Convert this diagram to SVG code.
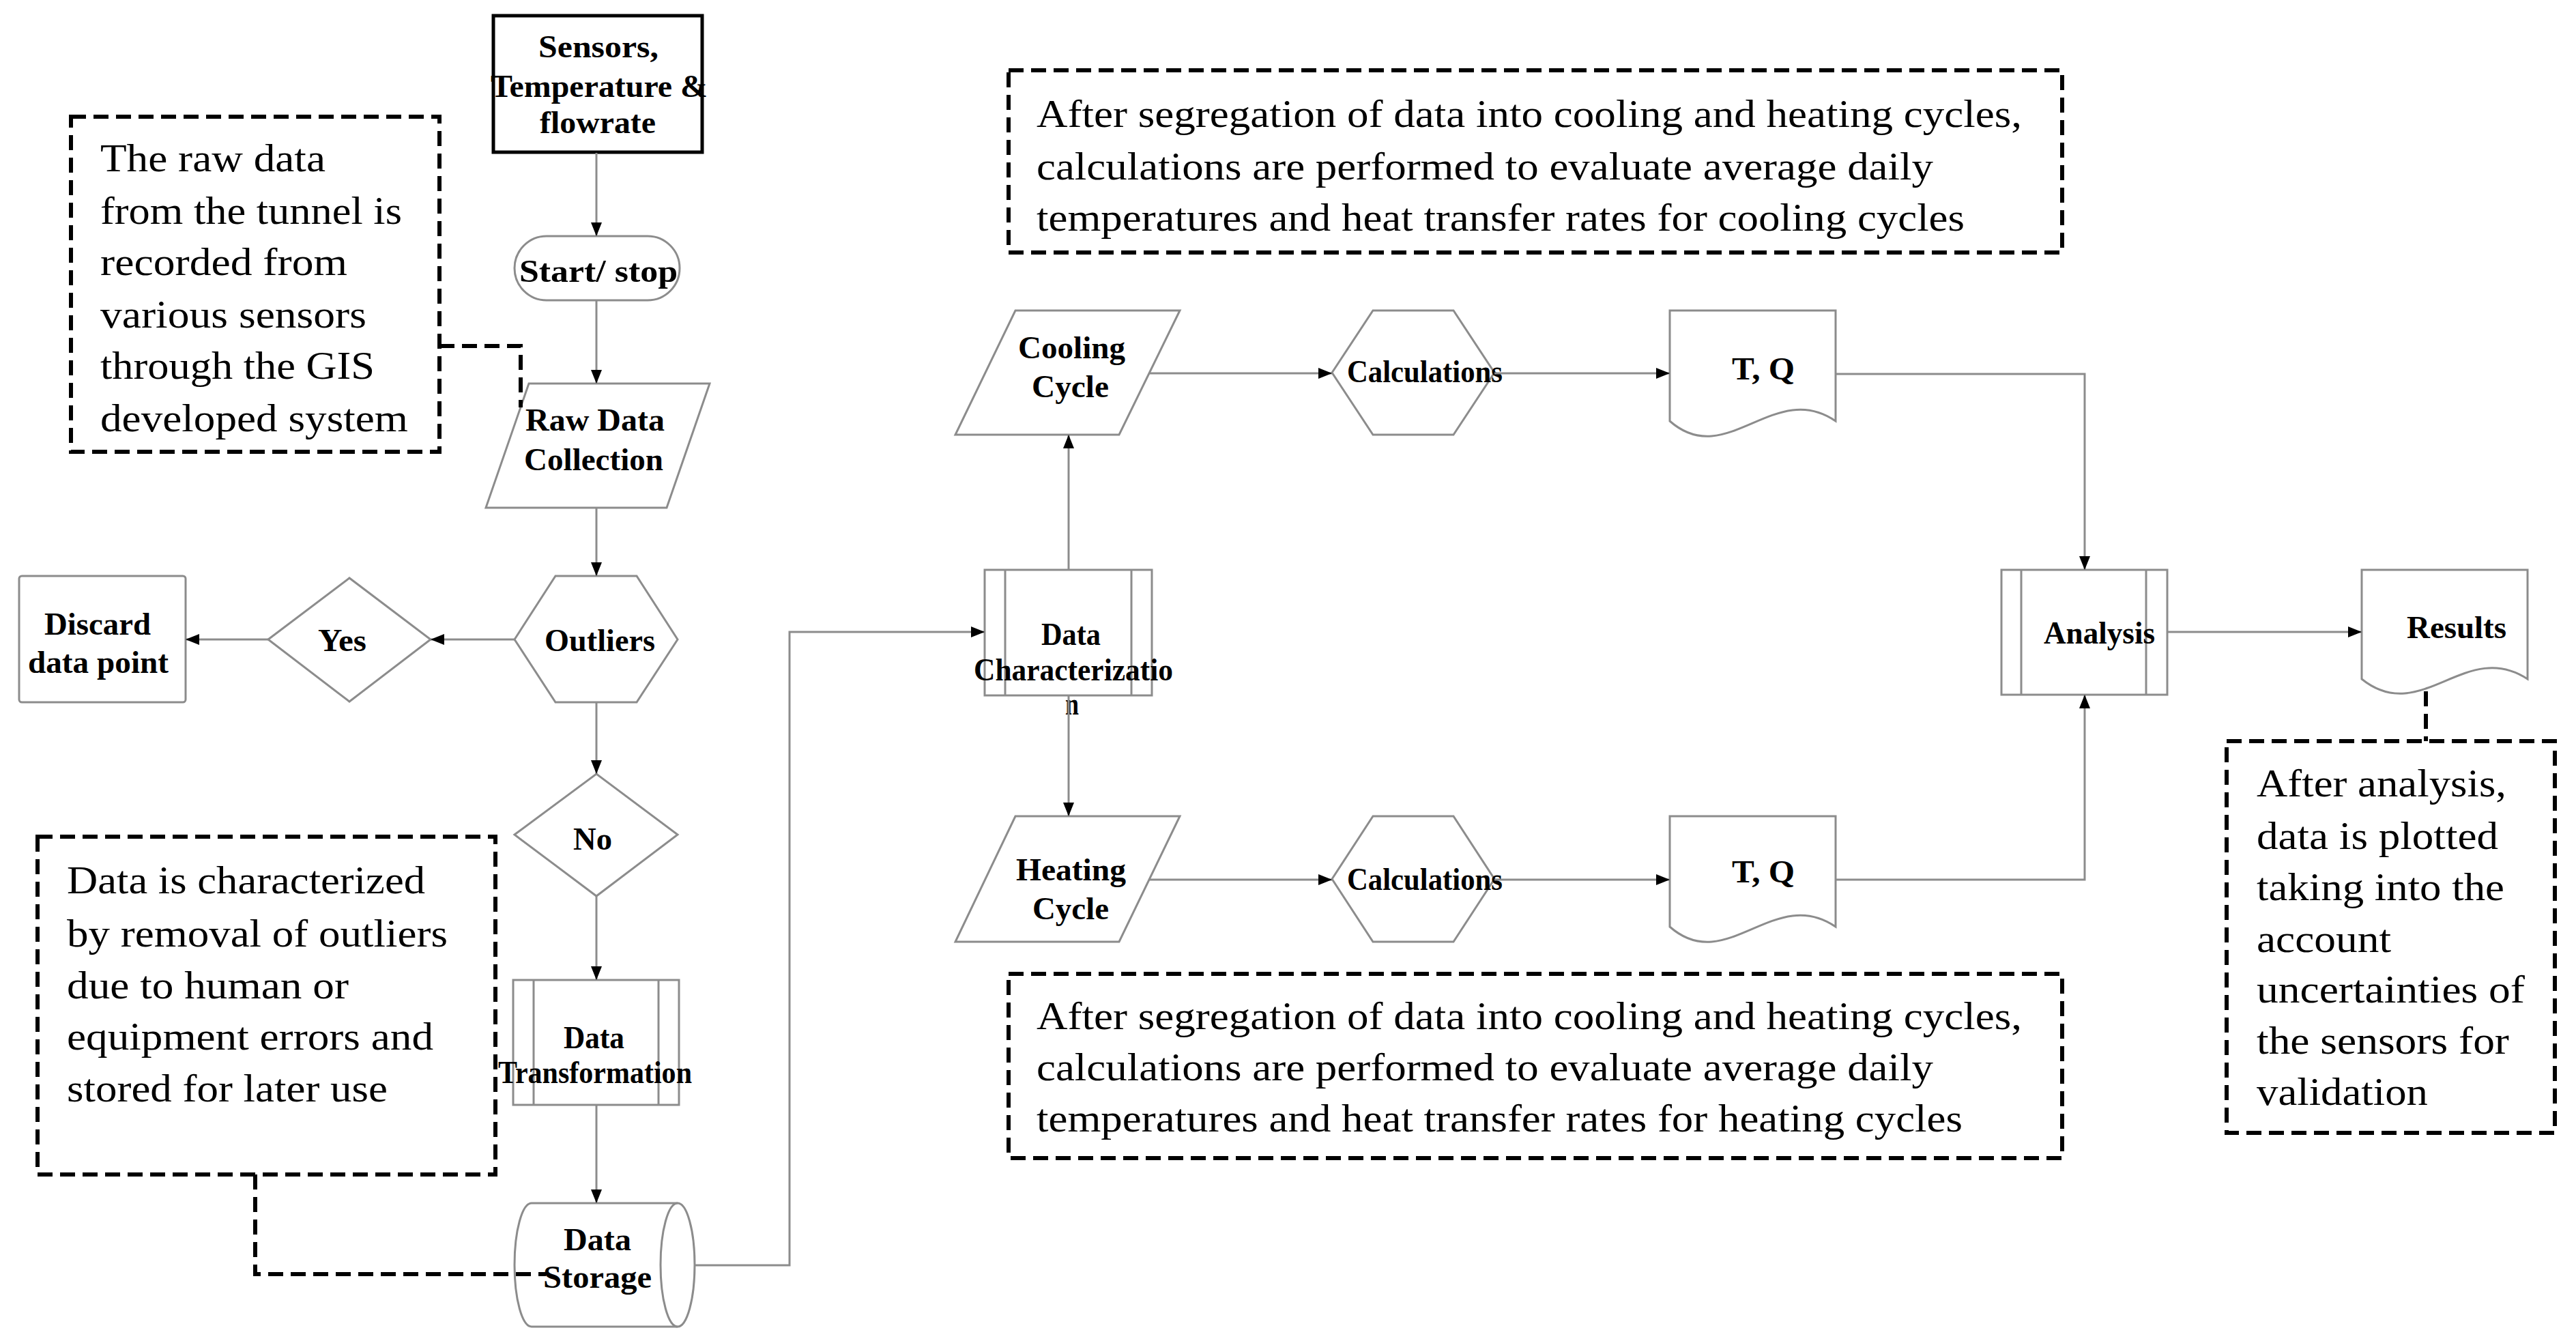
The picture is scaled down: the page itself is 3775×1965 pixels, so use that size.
<svg xmlns="http://www.w3.org/2000/svg" width="3775" height="1965" viewBox="0 0 3775 1965">
<style>
.n{fill:#fff;stroke:#8c8c8c;stroke-width:3}
.c{fill:none;stroke:#8c8c8c;stroke-width:3}
.d{fill:none;stroke:#000;stroke-width:6;stroke-dasharray:22 11}
.b{font-family:"Liberation Serif","Times New Roman",serif;font-weight:bold;font-size:46px;fill:#000}
.t{font-family:"Liberation Serif","Times New Roman",serif;font-size:56px;fill:#000}
.r{font-family:"Liberation Serif","Times New Roman",serif;font-size:58px;fill:#000}
</style>
<defs>
<marker id="ah" markerWidth="20" markerHeight="16" refX="20" refY="8" orient="auto" markerUnits="userSpaceOnUse"><path d="M0,0 L20,8 L0,16 z" fill="#000"/></marker>
</defs>
<rect width="3775" height="1965" fill="#fff"/>

<g id="sensors">
<rect x="723" y="23" width="306" height="200" fill="#fff" stroke="#000" stroke-width="5"/>
<text class="b" x="789" y="84" textLength="176" lengthAdjust="spacingAndGlyphs">Sensors,</text>
<text class="b" x="719" y="142" textLength="318" lengthAdjust="spacingAndGlyphs">Temperature &amp;</text>
<text class="b" x="791" y="195" textLength="170" lengthAdjust="spacingAndGlyphs">flowrate</text>
</g>

<g id="start">
<rect class="n" x="754" y="346" width="242" height="94" rx="47"/>
<text class="b" x="761" y="413" textLength="232" lengthAdjust="spacingAndGlyphs">Start/ stop</text>
</g>

<g id="rawdata">
<polygon class="n" points="775,562 1040,562 977,744 712,744"/>
<text class="b" x="770" y="631" textLength="204" lengthAdjust="spacingAndGlyphs">Raw Data</text>
<text class="b" x="768" y="689" textLength="204" lengthAdjust="spacingAndGlyphs">Collection</text>
</g>

<g id="outliers">
<polygon class="n" points="754,937 814,844 933,844 993,937 933,1029 814,1029"/>
<text class="b" x="798" y="954" textLength="162" lengthAdjust="spacingAndGlyphs">Outliers</text>
</g>

<g id="yes">
<polygon class="n" points="393,937 512,847 631,937 512,1028"/>
<text class="b" x="466" y="954" textLength="71" lengthAdjust="spacingAndGlyphs">Yes</text>
</g>

<g id="discard">
<rect class="n" x="28" y="844" width="244" height="185" rx="4"/>
<text class="b" x="65" y="930" textLength="156" lengthAdjust="spacingAndGlyphs">Discard</text>
<text class="b" x="41" y="986" textLength="206" lengthAdjust="spacingAndGlyphs">data point</text>
</g>

<g id="no">
<polygon class="n" points="754,1223 874,1134 993,1223 874,1313"/>
<text class="b" x="840" y="1245" textLength="57" lengthAdjust="spacingAndGlyphs">No</text>
</g>

<g id="transformation">
<rect class="n" x="752" y="1436" width="243" height="183"/>
<path class="c" d="M782 1436 V1619 M965 1436 V1619"/>
<text class="b" x="826" y="1536" textLength="89" lengthAdjust="spacingAndGlyphs">Data</text>
<text class="b" x="730" y="1587" textLength="284" lengthAdjust="spacingAndGlyphs">Transformation</text>
</g>

<g id="storage">
<path class="n" d="M779 1763 H993 A25 90.5 0 0 1 993 1944 H779 A25 90.5 0 0 1 779 1763 Z"/>
<path class="c" d="M993 1763 A25 90.5 0 0 0 993 1944"/>
<text class="b" x="826" y="1832" textLength="99" lengthAdjust="spacingAndGlyphs">Data</text>
<text class="b" x="796" y="1887" textLength="159" lengthAdjust="spacingAndGlyphs">Storage</text>
</g>

<g id="characterization">
<rect class="n" x="1443" y="835" width="245" height="184"/>
<path class="c" d="M1473 835 V1019 M1658 835 V1019"/>
<text class="b" x="1526" y="945" textLength="87" lengthAdjust="spacingAndGlyphs">Data</text>
<text class="b" x="1427" y="997" textLength="292" lengthAdjust="spacingAndGlyphs">Characterizatio</text>
<text class="b" x="1561" y="1047" textLength="20" lengthAdjust="spacingAndGlyphs">n</text>
</g>

<g id="cooling">
<polygon class="n" points="1488,455 1729,455 1640,637 1400,637"/>
<text class="b" x="1492" y="525" textLength="157" lengthAdjust="spacingAndGlyphs">Cooling</text>
<text class="b" x="1512" y="582" textLength="113" lengthAdjust="spacingAndGlyphs">Cycle</text>
</g>

<g id="calc1">
<polygon class="n" points="1952,546 2012,455 2130,455 2190,546 2130,637 2012,637"/>
<text class="b" x="1974" y="560" textLength="228" lengthAdjust="spacingAndGlyphs">Calculations</text>
</g>

<g id="tq1">
<path class="n" d="M2447 455 H2690 V617 C2600 555 2530 690 2447 617 Z"/>
<text class="b" x="2538" y="556" textLength="92" lengthAdjust="spacingAndGlyphs">T, Q</text>
</g>

<g id="heating">
<polygon class="n" points="1488,1196 1729,1196 1640,1380 1400,1380"/>
<text class="b" x="1489" y="1290" textLength="161" lengthAdjust="spacingAndGlyphs">Heating</text>
<text class="b" x="1513" y="1347" textLength="112" lengthAdjust="spacingAndGlyphs">Cycle</text>
</g>

<g id="calc2">
<polygon class="n" points="1952,1288 2012,1196 2130,1196 2190,1288 2130,1380 2012,1380"/>
<text class="b" x="1974" y="1304" textLength="228" lengthAdjust="spacingAndGlyphs">Calculations</text>
</g>

<g id="tq2">
<path class="n" d="M2447 1196 H2690 V1358 C2600 1296 2530 1431 2447 1358 Z"/>
<text class="b" x="2538" y="1293" textLength="92" lengthAdjust="spacingAndGlyphs">T, Q</text>
</g>

<g id="analysis">
<rect class="n" x="2933" y="835" width="243" height="183"/>
<path class="c" d="M2962 835 V1018 M3145 835 V1018"/>
<text class="b" x="2995" y="943" textLength="163" lengthAdjust="spacingAndGlyphs">Analysis</text>
</g>

<g id="results">
<path class="n" d="M3461 835 H3704 V995 C3613 935 3548 1065 3461 995 Z"/>
<text class="b" x="3527" y="935" textLength="146" lengthAdjust="spacingAndGlyphs">Results</text>
</g>

<g id="note-raw">
<rect class="d" x="104" y="171" width="540" height="491"/>
<text class="t" x="147" y="251" textLength="330" lengthAdjust="spacingAndGlyphs">The raw data</text>
<text class="t" x="147" y="328" textLength="442" lengthAdjust="spacingAndGlyphs">from the tunnel is</text>
<text class="t" x="147" y="403" textLength="362" lengthAdjust="spacingAndGlyphs">recorded from</text>
<text class="t" x="147" y="480" textLength="390" lengthAdjust="spacingAndGlyphs">various sensors</text>
<text class="t" x="147" y="555" textLength="402" lengthAdjust="spacingAndGlyphs">through the GIS</text>
<text class="t" x="147" y="632" textLength="451" lengthAdjust="spacingAndGlyphs">developed system</text>
</g>

<g id="note-char">
<rect class="d" x="55" y="1226" width="671" height="495"/>
<text class="t" x="98" y="1309" textLength="525" lengthAdjust="spacingAndGlyphs">Data is characterized</text>
<text class="t" x="98" y="1387" textLength="558" lengthAdjust="spacingAndGlyphs">by removal of outliers</text>
<text class="t" x="98" y="1463" textLength="413" lengthAdjust="spacingAndGlyphs">due to human or</text>
<text class="t" x="98" y="1538" textLength="537" lengthAdjust="spacingAndGlyphs">equipment errors and</text>
<text class="t" x="98" y="1614" textLength="470" lengthAdjust="spacingAndGlyphs">stored for later use</text>
</g>

<g id="note-cooling">
<rect class="d" x="1478" y="103" width="1544" height="267"/>
<text class="t" x="1519" y="186" textLength="1444" lengthAdjust="spacingAndGlyphs">After segregation of data into cooling and heating cycles,</text>
<text class="t" x="1519" y="263" textLength="1314" lengthAdjust="spacingAndGlyphs">calculations are performed to evaluate average daily</text>
<text class="t" x="1519" y="338" textLength="1360" lengthAdjust="spacingAndGlyphs">temperatures and heat transfer rates  for cooling cycles</text>
</g>

<g id="note-heating">
<rect class="d" x="1478" y="1427" width="1544" height="270"/>
<text class="t" x="1519" y="1508" textLength="1444" lengthAdjust="spacingAndGlyphs">After segregation of data into cooling and heating cycles,</text>
<text class="t" x="1519" y="1583" textLength="1314" lengthAdjust="spacingAndGlyphs">calculations are performed to evaluate average daily</text>
<text class="t" x="1519" y="1658" textLength="1357" lengthAdjust="spacingAndGlyphs">temperatures and heat transfer rates  for heating cycles</text>
</g>

<g id="note-results">
<rect class="d" x="3263" y="1086" width="481" height="574"/>
<text class="r" x="3307" y="1167" textLength="366" lengthAdjust="spacingAndGlyphs">After analysis,</text>
<text class="r" x="3307" y="1244" textLength="354" lengthAdjust="spacingAndGlyphs">data is plotted</text>
<text class="r" x="3307" y="1319" textLength="363" lengthAdjust="spacingAndGlyphs">taking into the</text>
<text class="r" x="3307" y="1395" textLength="197" lengthAdjust="spacingAndGlyphs">account</text>
<text class="r" x="3307" y="1469" textLength="393" lengthAdjust="spacingAndGlyphs">uncertainties of</text>
<text class="r" x="3307" y="1544" textLength="370" lengthAdjust="spacingAndGlyphs">the sensors for</text>
<text class="r" x="3307" y="1619" textLength="251" lengthAdjust="spacingAndGlyphs">validation</text>
</g>

<g id="connectors">
<path class="c" d="M874 224 V346" marker-end="url(#ah)"/>
<path class="c" d="M874 440 V562" marker-end="url(#ah)"/>
<path class="c" d="M874 744 V844" marker-end="url(#ah)"/>
<path class="c" d="M754 937 H631" marker-end="url(#ah)"/>
<path class="c" d="M393 937 H272" marker-end="url(#ah)"/>
<path class="c" d="M874 1029 V1134" marker-end="url(#ah)"/>
<path class="c" d="M874 1313 V1436" marker-end="url(#ah)"/>
<path class="c" d="M874 1619 V1763" marker-end="url(#ah)"/>
<path class="c" d="M1018 1854 H1157 V926 H1443" marker-end="url(#ah)"/>
<path class="c" d="M1566 835 V637" marker-end="url(#ah)"/>
<path class="c" d="M1566 1019 V1196" marker-end="url(#ah)"/>
<path class="c" d="M1684 547 H1952" marker-end="url(#ah)"/>
<path class="c" d="M2190 547 H2447" marker-end="url(#ah)"/>
<path class="c" d="M2690 548 H3055 V835" marker-end="url(#ah)"/>
<path class="c" d="M1684 1289 H1952" marker-end="url(#ah)"/>
<path class="c" d="M2190 1289 H2447" marker-end="url(#ah)"/>
<path class="c" d="M2690 1289 H3055 V1018" marker-end="url(#ah)"/>
<path class="c" d="M3176 926 H3461" marker-end="url(#ah)"/>
<path class="d" d="M644 507 H763 V597"/>
<path class="d" d="M374 1721 V1867 H800"/>
<path class="d" d="M3555 1013 V1086"/>
</g>
</svg>
